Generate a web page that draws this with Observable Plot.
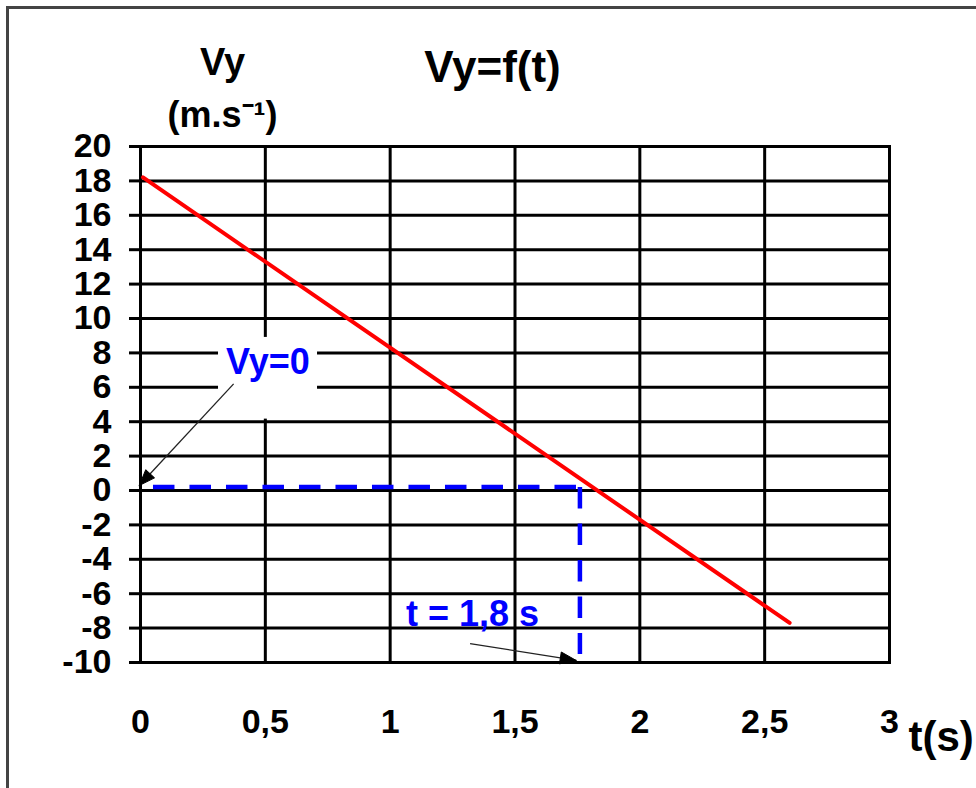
<!DOCTYPE html>
<html>
<head>
<meta charset="utf-8">
<script src="https://cdn.jsdelivr.net/npm/d3@7"></script>
<script src="https://cdn.jsdelivr.net/npm/@observablehq/plot@0.6"></script>
<style>
  html, body { margin: 0; padding: 0; background: #fff; }
  #wrap { position: relative; width: 976px; height: 788px; overflow: hidden; }
  #border { position: absolute; left: 6px; top: 6px; width: 1100px; height: 1100px;
            border-left: 3px solid #444; border-top: 3px solid #444; box-sizing: border-box; }
  #chart { position: absolute; left: 0; top: 0; }
</style>
</head>
<body>
<div id="wrap"><div id="border"></div><div id="chart"></div></div>
<script>
// ---- data ----
const xTicks = [0, 0.5, 1, 1.5, 2, 2.5, 3];
const yTicks = [-10, -8, -6, -4, -2, 0, 2, 4, 6, 8, 10, 12, 14, 16, 18, 20];
// Vy(t) red line
const redT = [0.01, 2.6];
const redV = [18.2, -7.7];
// blue dashed guide: horizontal at Vy≈0, vertical at t≈1.76
const guideT = [0.05, 1.76, 1.76, 1.76];
const guideV = [0.2, 0.2, 0.2, -9.5];
const guideSeg = ["h", "h", "v", "v"];
// annotations
const labels = ["Vy=0", "t = 1,8 s"];
const labelT = [0.51, 1.33];
const labelV = [7.45, -7.2];
const arrowFromT = [0.373, 1.32];
const arrowFromV = [6.2, -8.9];
const arrowToT = [-0.005, 1.745];
const arrowToV = [0.29, -9.88];
const boxT = [0.3125, 0.709];
const boxV = [4.15, 8.9];

// ---- layout ----
const W = 976, H = 788;
const mL = 140, mR = 87, mT = 146, mB = 126;
const xs = d3.scaleLinear([0, 3], [mL, W - mR]);
const ys = d3.scaleLinear([-10, 20], [H - mB, mT]);

const red = redT.map((t, i) => ({t, v: redV[i]}));
const guide = guideT.map((t, i) => ({t, v: guideV[i], seg: guideSeg[i]}));
const arrows = labels.map((l, i) => ({x1: arrowFromT[i], y1: arrowFromV[i], x2: arrowToT[i], y2: arrowToV[i]}));
const box = [{x1: boxT[0], x2: boxT[1], y1: boxV[0], y2: boxV[1]}];
const labelData = labels.map((l, i) => ({l, t: labelT[i], v: labelV[i]}));

// arrowhead triangles computed from arrow geometry
const heads = [];
arrows.forEach((a, k) => {
  const px1 = xs(a.x1), py1 = ys(a.y1), px2 = xs(a.x2), py2 = ys(a.y2);
  const dx = px2 - px1, dy = py2 - py1, len = Math.hypot(dx, dy);
  const ux = dx / len, uy = dy / len, L = 16, Hw = 6;
  const bx = px2 - ux * L, by = py2 - uy * L;
  const pts = [[px2, py2], [bx - uy * Hw, by + ux * Hw], [bx + uy * Hw, by - ux * Hw], [px2, py2]];
  pts.forEach(p => heads.push({k, t: xs.invert(p[0]), v: ys.invert(p[1])}));
});

const fmt = d => String(d).replace(".", ",");
const font = "'Liberation Sans', Arial, sans-serif";

const plot = Plot.plot({
  width: W, height: H,
  marginLeft: mL, marginRight: mR, marginTop: mT, marginBottom: mB,
  x: {domain: [0, 3], axis: null},
  y: {domain: [-10, 20], axis: null},
  style: {fontFamily: font, fontWeight: "bold", background: "transparent", overflow: "visible"},
  marks: [
    Plot.gridX(xTicks, {stroke: "black", strokeOpacity: 1, strokeWidth: 3}),
    Plot.gridY(yTicks, {stroke: "black", strokeOpacity: 1, strokeWidth: 3}),
    Plot.rect(box, {x1: "x1", x2: "x2", y1: "y1", y2: "y2", fill: "white"}),
    Plot.frame({stroke: "black", strokeWidth: 3}),
    Plot.axisY(yTicks, {tickSize: 11, tickPadding: 18, strokeWidth: 3, tickFormat: fmt,
      fontSize: 34, fill: "black", label: null}),
    Plot.axisX(xTicks, {tickSize: 0, tickPadding: 46, tickFormat: fmt,
      fontSize: 34, fill: "black", label: null}),
    Plot.line(red, {x: "t", y: "v", stroke: "#ff0000", strokeWidth: 4}),
    Plot.line(guide, {x: "t", y: "v", z: "seg", stroke: "#0000ff", strokeWidth: 4.5,
      strokeDasharray: "21.5,15", strokeLinecap: "butt"}),
    Plot.link(arrows, {x1: "x1", y1: "y1", x2: "x2", y2: "y2", stroke: "#222", strokeWidth: 1.3}),
    Plot.line(heads, {x: "t", y: "v", z: "k", fill: "black", stroke: "black", strokeWidth: 1}),
    Plot.text(labelData, {x: "t", y: "v", text: "l", fill: "#0000ff", fontSize: 36,
      fontWeight: "bold", lineAnchor: "middle"}),
    Plot.text(["Vy"], {frameAnchor: "top-left", dx: 82, dy: -84, fontSize: 38,
      fill: "black", textAnchor: "middle", lineAnchor: "middle"}),
    Plot.text(["(m.s\u207B\u00B9)"], {frameAnchor: "top-left", dx: 82, dy: -31, fontSize: 36,
      fill: "black", textAnchor: "middle", lineAnchor: "middle"}),
    Plot.text(["Vy=f(t)"], {frameAnchor: "top-left", dx: 352, dy: -79, fontSize: 44,
      fill: "black", textAnchor: "middle", lineAnchor: "middle"}),
    Plot.text(["t(s)"], {frameAnchor: "bottom-right", dx: 19, dy: 75, fontSize: 42,
      fill: "black", textAnchor: "start", lineAnchor: "middle"})
  ]
});
document.getElementById("chart").appendChild(plot);
</script>
</body>
</html>
